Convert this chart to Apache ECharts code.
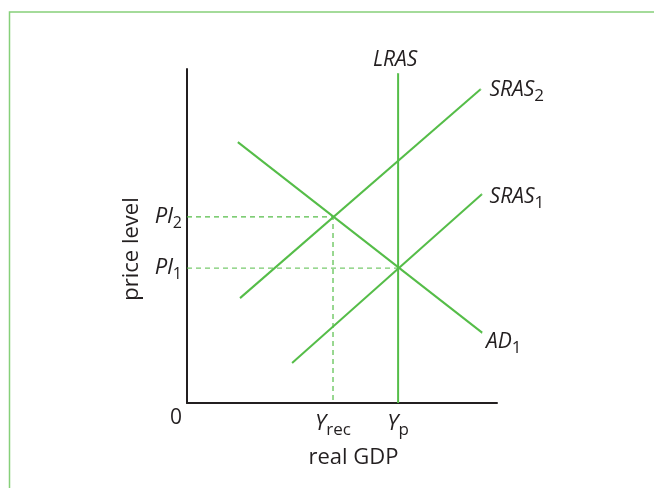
<!DOCTYPE html>
<html>
<head>
<meta charset="utf-8">
<script src="https://cdn.jsdelivr.net/npm/echarts@6/dist/echarts.min.js"></script>
<style>html,body{margin:0;padding:0;background:#fff}#c{width:654px;height:488px}</style>
</head>
<body>
<div id="c"></div>
<script>
// ---- data (axis units 0..100) ----
const lras  = [[68.1, 0], [68.1, 98.8]];
const sras1 = [[33.9, 12.0], [95.2, 62.6]];
const sras2 = [[17.1, 31.4], [94.8, 94.0]];
const ad1   = [[16.4, 78.1], [95.3, 21.0]];
const priceLevels = [40.4, 55.7];           // Pl1, Pl2
const outputLevels = [47.1, 68.1];          // Yrec, Yp
const yTickValues = [0, 40.4, 55.7];
const yTickLabels = ['{z|0}', '{i|Pl}{s|1}', '{i|Pl}{s|2}'];
const xTickValues = [47.1, 68.1];
const xTickLabels = ['{i|Y}{s|rec}', '{i|Y}{s|p}'];
const seriesNames = ['LRAS', 'SRAS1', 'SRAS2', 'AD1'];
const seriesLabels = ['{i|LRAS}', '{i|SRAS}{s|1}', '{i|SRAS}{s|2}', '{i|AD}{s|1}'];

const FONT = 'Open Sans';
const INK = '#231f20';
const GREEN = '#55bd48';
const richBase = {
  i: {fontFamily: FONT, fontStyle: 'italic', fontSize: 21, color: INK},
  s: {fontFamily: FONT, fontSize: 17, color: INK, padding: [12, 0, 0, 0]}
};
const xRich = {
  i: {fontFamily: FONT, fontStyle: 'italic', fontSize: 22, color: INK},
  s: {fontFamily: FONT, fontSize: 17, color: INK, padding: [14, 0, 0, 0]}
};
const yRich = {
  i: {fontFamily: FONT, fontStyle: 'italic', fontSize: 22, color: INK},
  s: {fontFamily: FONT, fontSize: 16, color: INK, padding: [13, 0, 0, 0]},
  z: {fontFamily: FONT, fontSize: 21, color: INK, padding: [30, 0, 0, 0]}
};

function pick(values, labels, v) {
  let best = 0;
  values.forEach((x, k) => { if (Math.abs(x - v) < Math.abs(values[best] - v)) best = k; });
  return labels[best];
}

function curve(points, name) {
  return {
    type: 'line', name: name, data: points, symbol: 'none',
    lineStyle: {color: GREEN, width: 2}, itemStyle: {color: GREEN},
    silent: true, animation: false, z: 3
  };
}

const curveSets = [lras, sras1, sras2, ad1];
const labelPlacement = [
  {position: 'top', offset: [-3, 6]},
  {position: 'right', offset: [-1, 3]},
  {position: 'right', offset: [0, 1]},
  {position: 'right', offset: [-5, 9]}
];
const labelSeries = {
  type: 'scatter', symbol: 'circle', symbolSize: 1, silent: true, animation: false, z: 4,
  itemStyle: {color: '#ffffff', opacity: 1},
  data: curveSets.map((pts, k) => ({
    value: pts[pts.length - 1],
    label: Object.assign({show: true, distance: 8, color: INK, opacity: 1,
      formatter: seriesLabels[k], rich: richBase}, labelPlacement[k])
  }))
};

const guide = {
  type: 'line', data: [[0, priceLevels[1]], [outputLevels[0], priceLevels[1]], [outputLevels[0], 0]],
  symbol: 'none', lineStyle: {color: GREEN, width: 1.2, type: [5, 4]}, silent: true, animation: false, z: 2
};
const guide1 = {
  type: 'line', data: [[0, priceLevels[0]], [outputLevels[1], priceLevels[0]]],
  symbol: 'none', lineStyle: {color: GREEN, width: 1.2, type: [5, 4], opacity: 0.8}, silent: true, animation: false, z: 2
};

const chart = echarts.init(document.getElementById('c'), null, {renderer: 'canvas'});
chart.setOption({
  animation: false,
  backgroundColor: '#fff',
  graphic: [{
    type: 'rect', shape: {x: 9.5, y: 12, width: 700, height: 500},
    style: {fill: 'none', stroke: '#86d07a', lineWidth: 1.5}, silent: true
  }],
  grid: {left: 187, right: 157, top: 69, bottom: 85, containLabel: false},
  xAxis: {
    type: 'value', min: 0, max: 100,
    name: 'real GDP', nameLocation: 'middle', nameGap: 44,
    nameTextStyle: {fontFamily: FONT, fontSize: 22, color: INK, padding: [0, 0, 0, 23]},
    axisLine: {show: true, onZero: false, lineStyle: {color: INK, width: 2}},
    axisTick: {show: false}, splitLine: {show: false},
    axisLabel: {
      customValues: xTickValues, margin: 5,
      formatter: v => pick(xTickValues, xTickLabels, v), rich: xRich
    }
  },
  yAxis: {
    type: 'value', min: 0, max: 100,
    name: 'price level', nameLocation: 'middle', nameGap: 44, nameRotate: 90,
    nameTextStyle: {fontFamily: FONT, fontSize: 22, color: INK, padding: [0, 26, 0, 0]},
    axisLine: {show: true, onZero: false, lineStyle: {color: INK, width: 2}},
    axisTick: {show: false}, splitLine: {show: false},
    axisLabel: {
      customValues: yTickValues, margin: 5,
      formatter: v => pick(yTickValues, yTickLabels, v), rich: yRich
    }
  },
  series: [
    guide, guide1,
    curve(lras, seriesNames[0]),
    curve(sras1, seriesNames[1]),
    curve(sras2, seriesNames[2]),
    curve(ad1, seriesNames[3]),
    labelSeries
  ]
});
</script>
</body>
</html>
